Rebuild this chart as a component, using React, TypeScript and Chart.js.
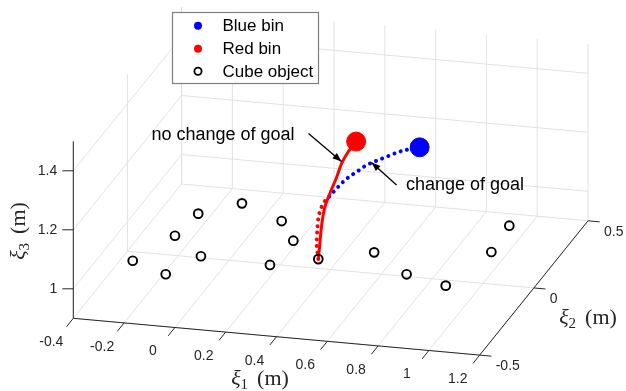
import { useEffect, useRef } from "react";
import { Chart, registerables } from "chart.js";

Chart.register(...registerables);

// ---------- axis limits & ticks ----------
const xLimits = [-0.4, 1.2];
const yLimits = [-0.5, 0.5];
const zLimits = [0.9, 1.5];
const xTicks = [-0.4, -0.2, 0, 0.2, 0.4, 0.6, 0.8, 1, 1.2];
const yTicks = [-0.5, 0, 0.5];
const zTicks = [1, 1.2, 1.4];
const xTickLabels = ["-0.4", "-0.2", "0", "0.2", "0.4", "0.6", "0.8", "1", "1.2"];
const yTickLabels = ["-0.5", "0", "0.5"];
const zTickLabels = ["1", "1.2", "1.4"];

// ---------- data ----------
const cubeX = [-0.265, -0.104, -0.184, -0.164, -0.028, -0.034, 0.164, 0.265, 0.251, 0.411, 0.596, 0.78, 0.957, 1.025, 1.013];
const cubeY = [-0.268, -0.341, -0.068, 0.1, -0.194, 0.199, 0.101, -0.028, -0.211, -0.14, -0.058, -0.19, -0.244, 0.018, 0.212];
const cubeZ = [1, 1, 1, 1, 1, 1, 1, 1, 1, 1, 1, 1, 1, 1, 1];

// no change of goal (solid red)
const redX = [0.411, 0.416, 0.42, 0.426, 0.437, 0.457, 0.484, 0.503, 0.529, 0.56];
const redY = [-0.14, -0.14, -0.14, -0.14, -0.14, -0.14, -0.14, -0.14, -0.14, -0.14];
const redZ = [1.0, 1.041, 1.082, 1.127, 1.179, 1.227, 1.285, 1.332, 1.373, 1.41];

// change of goal: first part heading to red (dotted red)
const switchRedX = [0.411, 0.405, 0.407, 0.412, 0.422, 0.437, 0.454];
const switchRedY = [-0.14, -0.14, -0.14, -0.14, -0.14, -0.14, -0.14];
const switchRedZ = [1.0, 1.047, 1.098, 1.143, 1.174, 1.199, 1.215];

// change of goal: second part heading to blue (dotted blue)
const switchBlueX = [0.454, 0.477, 0.497, 0.516, 0.543, 0.569, 0.595, 0.621, 0.654, 0.687, 0.72, 0.746, 0.81];
const switchBlueY = [-0.14, -0.14, -0.14, -0.14, -0.14, -0.14, -0.14, -0.14, -0.14, -0.14, -0.14, -0.14, -0.14];
const switchBlueZ = [1.215, 1.239, 1.258, 1.276, 1.295, 1.312, 1.33, 1.343, 1.357, 1.371, 1.385, 1.394, 1.41];

const blueBin = [0.81, -0.14, 1.41];
const redBin = [0.56, -0.14, 1.41];

// ---------- view (orthographic camera, screen units) ----------
const SCREEN_W = 626;
const SCREEN_H = 391;
const VIEW = {
  origin: [73.3, 318.3],
  ex: [254, 23],
  ey: [108.3, -134.3],
  ez: [0, -295],
};

function project(x: number, y: number, z: number) {
  const u = x - xLimits[0];
  const v = y - yLimits[0];
  const w = z - zLimits[0];
  return {
    x: VIEW.origin[0] + u * VIEW.ex[0] + v * VIEW.ey[0] + w * VIEW.ez[0],
    y: VIEW.origin[1] + u * VIEW.ex[1] + v * VIEW.ey[1] + w * VIEW.ez[1],
  };
}

const toPts = (xs: number[], ys: number[], zs: number[]) => xs.map((x, i) => project(x, ys[i], zs[i]));

const GRID = "#e2e2e2";
const AXIS = "#262626";
const SANS = '"Liberation Sans", Arial, sans-serif';
const SERIF = '"Liberation Serif", "Times New Roman", serif';

function drawXi(ctx: CanvasRenderingContext2D, sub: string, cx: number, baseY: number) {
  ctx.font = `italic 22px ${SERIF}`;
  const w1 = ctx.measureText("ξ").width;
  ctx.font = `15px ${SERIF}`;
  const w2 = ctx.measureText(sub).width;
  ctx.font = `22px ${SERIF}`;
  const w3 = ctx.measureText("(m)").width;
  const gap = 9;
  const total = w1 + w2 + gap + w3;
  let x = cx - total / 2;
  ctx.textAlign = "left";
  ctx.textBaseline = "alphabetic";
  ctx.font = `italic 22px ${SERIF}`;
  ctx.fillText("ξ", x, baseY);
  x += w1;
  ctx.font = `15px ${SERIF}`;
  ctx.fillText(sub, x, baseY + 4);
  x += w2 + gap;
  ctx.font = `22px ${SERIF}`;
  ctx.fillText("(m)", x, baseY);
}

function arrow(ctx: CanvasRenderingContext2D, x0: number, y0: number, x1: number, y1: number) {
  ctx.beginPath();
  ctx.moveTo(x0, y0);
  ctx.lineTo(x1, y1);
  ctx.stroke();
  const a = Math.atan2(y1 - y0, x1 - x0);
  const L = 9, H = 3.5;
  ctx.beginPath();
  ctx.moveTo(x1, y1);
  ctx.lineTo(x1 - L * Math.cos(a) + H * Math.sin(a), y1 - L * Math.sin(a) - H * Math.cos(a));
  ctx.lineTo(x1 - L * Math.cos(a) - H * Math.sin(a), y1 - L * Math.sin(a) + H * Math.cos(a));
  ctx.closePath();
  ctx.fill();
}

const axesPlugin = {
  id: "axes3d",
  beforeDatasetsDraw(chart: any) {
    const ctx: CanvasRenderingContext2D = chart.ctx;
    const sx = chart.scales.x, sy = chart.scales.y;
    const P = (x: number, y: number, z: number): [number, number] => {
      const p = project(x, y, z);
      return [sx.getPixelForValue(p.x), sy.getPixelForValue(p.y)];
    };
    const line = (a: [number, number], b: [number, number]) => {
      ctx.beginPath();
      ctx.moveTo(a[0], a[1]);
      ctx.lineTo(b[0], b[1]);
      ctx.stroke();
    };
    const [x0, x1] = xLimits, [y0, y1] = yLimits, [z0, z1] = zLimits;
    ctx.save();
    ctx.lineWidth = 1;
    ctx.strokeStyle = GRID;
    // floor
    xTicks.forEach((x) => line(P(x, y0, z0), P(x, y1, z0)));
    yTicks.forEach((y) => line(P(x0, y, z0), P(x1, y, z0)));
    // back wall
    xTicks.forEach((x) => line(P(x, y1, z0), P(x, y1, z1)));
    zTicks.forEach((z) => line(P(x0, y1, z), P(x1, y1, z)));
    // left wall
    yTicks.forEach((y) => line(P(x0, y, z0), P(x0, y, z1)));
    zTicks.forEach((z) => line(P(x0, y0, z), P(x0, y1, z)));

    // axes lines
    ctx.strokeStyle = AXIS;
    line(P(x0, y0, z0), P(x1, y0, z0));
    line(P(x1, y0, z0), P(x1, y1, z0));
    line(P(x0, y0, z0), P(x0, y0, z1));

    // ticks + labels
    ctx.fillStyle = AXIS;
    ctx.font = `14px ${SANS}`;
    xTicks.forEach((x, i) => {
      const a = P(x, y0, z0);
      const b = P(x, y0 - 0.062, z0);
      line(a, b);
      ctx.textAlign = "center";
      ctx.textBaseline = "middle";
      ctx.fillText(xTickLabels[i], a[0] - 22, a[1] + 24);
    });
    yTicks.forEach((y, i) => {
      const a = P(x1, y, z0);
      const b = P(x1 + 0.046, y, z0);
      line(a, b);
      ctx.textAlign = "left";
      ctx.textBaseline = "middle";
      ctx.fillText(yTickLabels[i], a[0] + 16, a[1] + 11);
    });
    zTicks.forEach((z, i) => {
      const a = P(x0, y0, z);
      line(a, [a[0] - 11, a[1]]);
      ctx.textAlign = "right";
      ctx.textBaseline = "middle";
      ctx.fillText(zTickLabels[i], a[0] - 16, a[1]);
    });

    // axis titles
    drawXi(ctx, "1", 260, 385);
    drawXi(ctx, "2", 588, 324);
    ctx.save();
    ctx.translate(25, 231);
    ctx.rotate(-Math.PI / 2);
    drawXi(ctx, "3", 0, 0);
    ctx.restore();
    ctx.restore();
  },
  afterDraw(chart: any) {
    const ctx: CanvasRenderingContext2D = chart.ctx;
    ctx.save();
    // annotations
    ctx.fillStyle = "#000";
    ctx.strokeStyle = "#000";
    ctx.lineWidth = 1.3;
    ctx.font = `18px ${SANS}`;
    ctx.textAlign = "left";
    ctx.textBaseline = "alphabetic";
    ctx.fillText("no change of goal", 151.5, 139.5);
    ctx.fillText("change of goal", 406, 190);
    arrow(ctx, 308.5, 133.5, 341.5, 161.5);
    arrow(ctx, 396.5, 185, 371.5, 162.5);

    // legend
    ctx.fillStyle = "#fff";
    ctx.fillRect(172.5, 12.5, 146, 71);
    ctx.strokeStyle = "#7f7f7f";
    ctx.lineWidth = 1.2;
    ctx.strokeRect(172.5, 12.5, 146, 71);
    const entries = [
      { label: "Blue bin", color: "rgb(0,0,255)", filled: true },
      { label: "Red bin", color: "rgb(255,0,0)", filled: true },
      { label: "Cube object", color: "#000", filled: false },
    ];
    const rowsY = [25.7, 48.7, 71.3];
    entries.forEach((e, i) => {
      const y = rowsY[i];
      ctx.beginPath();
      ctx.arc(198, y, e.filled ? 4 : 3.6, 0, Math.PI * 2);
      if (e.filled) {
        ctx.fillStyle = e.color;
        ctx.fill();
      } else {
        ctx.strokeStyle = e.color;
        ctx.lineWidth = 1.8;
        ctx.stroke();
      }
      ctx.fillStyle = "#000";
      ctx.font = `17px ${SANS}`;
      ctx.textAlign = "left";
      ctx.textBaseline = "middle";
      ctx.fillText(e.label, 222.5, y + 1);
    });
    ctx.restore();
  },
};

export default function App() {
  const ref = useRef<HTMLCanvasElement | null>(null);
  useEffect(() => {
    document.body.style.margin = "0";
    if (!ref.current) return;
    const dotted = {
      showLine: true,
      pointRadius: 0,
      borderWidth: 4,
      borderDash: [0.01, 6.6],
      borderCapStyle: "round" as const,
      tension: 0.3,
      fill: false,
    };
    const chart = new Chart(ref.current, {
      type: "scatter",
      data: {
        datasets: [
          {
            label: "Blue bin",
            data: [project(blueBin[0], blueBin[1], blueBin[2])],
            pointRadius: 9.5,
            backgroundColor: "rgb(0,0,255)",
            borderColor: "rgb(0,0,255)",
            borderWidth: 1,
          },
          {
            label: "Red bin",
            data: [project(redBin[0], redBin[1], redBin[2])],
            pointRadius: 9.5,
            backgroundColor: "rgb(255,0,0)",
            borderColor: "rgb(255,0,0)",
            borderWidth: 1,
          },
          {
            label: "Cube object",
            data: toPts(cubeX, cubeY, cubeZ),
            pointRadius: 4.4,
            borderWidth: 1.9,
            borderColor: "#000",
            backgroundColor: "rgba(0,0,0,0)",
          },
          {
            label: "no change of goal",
            data: toPts(redX, redY, redZ),
            showLine: true,
            pointRadius: 0,
            borderWidth: 3,
            borderColor: "rgb(255,0,0)",
            tension: 0.3,
            fill: false,
          },
          {
            label: "change of goal (to blue)",
            data: toPts(switchBlueX, switchBlueY, switchBlueZ),
            borderColor: "rgb(0,0,255)",
            ...dotted,
          },
          {
            label: "change of goal (to red)",
            data: toPts(switchRedX, switchRedY, switchRedZ),
            borderColor: "rgb(255,0,0)",
            ...dotted,
          },
        ],
      },
      options: {
        animation: false,
        responsive: true,
        maintainAspectRatio: false,
        events: [],
        layout: { padding: 0, autoPadding: false },
        plugins: { legend: { display: false }, tooltip: { enabled: false } },
        scales: {
          x: { type: "linear", min: 0, max: SCREEN_W, display: false },
          y: { type: "linear", min: 0, max: SCREEN_H, reverse: true, display: false },
        },
      },
      plugins: [axesPlugin],
    });
    return () => chart.destroy();
  }, []);
  return (
    <div style={{ position: "fixed", left: 0, top: 0, width: SCREEN_W, height: SCREEN_H, background: "#fff" }}>
      <canvas ref={ref} />
    </div>
  );
}
